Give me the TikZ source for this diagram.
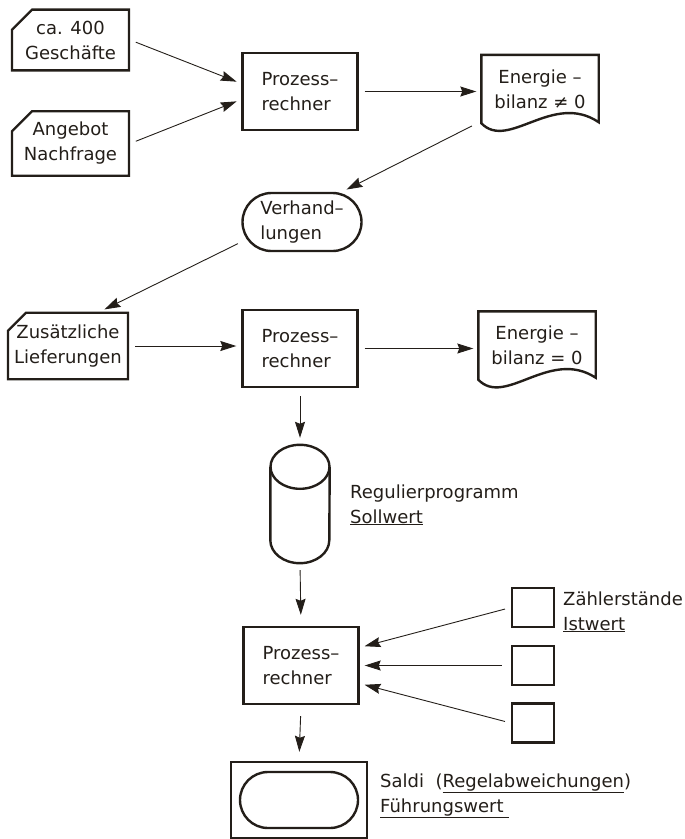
\documentclass[tikz,border=0pt]{standalone}
\usepackage{fontspec}
\setmainfont{DejaVu Sans}
\usepackage{tikz}
\usetikzlibrary{arrows.meta,shapes.misc,positioning}
\definecolor{ink}{RGB}{35,30,25}

\begin{document}
\begin{tikzpicture}[->,x=1pt,y=-1pt,>={Stealth[length=16pt,width=10pt,inset=2pt]},
    font=\fontsize{18}{25}\selectfont,text=ink]
    \tikzstyle{card}=[draw=ink, line width=2.4pt, chamfered rectangle, chamfered rectangle corners=north west,
      chamfered rectangle xsep=9pt, chamfered rectangle ysep=11pt, minimum width=117pt, minimum height=56pt,
      inner sep=0pt, align=center]
    \tikzstyle{proc}=[draw=ink, line width=2.4pt, minimum width=115pt, minimum height=77pt, inner sep=0pt, align=left]
    \tikzstyle{docbox}=[minimum width=117pt, minimum height=68pt, inner sep=0pt, align=center]
    \tikzstyle{talk}=[draw=ink, line width=2.4pt, rounded rectangle, minimum width=119pt, minimum height=58pt,
      inner sep=0pt, align=left]
    \tikzstyle{meter}=[draw=ink, line width=2.4pt, minimum width=42pt, minimum height=39pt, inner sep=0pt]
    \tikzstyle{outline}=[-, draw=ink, line width=2.4pt]
    \tikzstyle{flow}=[draw=ink, line width=0.9pt, shorten <=6pt, shorten >=5pt]
    \tikzstyle{note}=[align=left, inner sep=0pt, anchor=base west]

    \useasboundingbox (0,0) rectangle (685,839);

    \node[card] (c1) at (70.5,40)  {ca. 400\\Geschäfte};
    \node[card] (c2) at (70.5,143.5) {Angebot\\Nachfrage};
    \node[proc] (p1) at (300,91.5) {Prozess--\\rechner};
    \node[docbox] (e1) at (540,89) {Energie --\\bilanz ≠ 0};
    \node[talk] (v) at (302,222) {Verhand--\\lungen};

    \node[card, minimum width=120pt, minimum height=58pt, chamfered rectangle xsep=6pt,
      chamfered rectangle ysep=12pt] (c3) at (68,346) {Zusätzliche\\Lieferungen};
    \node[proc] (p2) at (300,348.5) {Prozess--\\rechner};
    \node[docbox] (e2) at (537,345.5) {Energie --\\bilanz = 0};

    \node[minimum width=59pt, minimum height=118pt, inner sep=0pt] (cyl) at (300,504) {};
    \node[note] (regtxt) at (350,523) {Regulierprogramm\\\underline{Sollwert}};

    \node[proc] (p3) at (301,665.5) {Prozess--\\rechner};
    \node[meter] (s1) at (533,607.5) {};
    \node[meter] (s2) at (533,665.5) {};
    \node[meter] (s3) at (533,723) {};
    \node[note] (zaehl) at (563,630) {Zählerstände\\\underline{Istwert}};

    \node[draw=ink, line width=2.4pt, minimum width=136pt, minimum height=76pt] (saldi) at (299,800) {};
    \node[talk, minimum width=118pt, minimum height=56pt] (saldiin) at (saldi.center) {};
    \node[note] (saltxt) at (380,812) {Saldi\ \ (\underline{Regelabweichungen})\\\underline{Führungswert\ }};

    \draw[outline] (e1.south west) -- (e1.north west) -- (e1.north east) -- ([yshift=1pt]e1.south east)
      .. controls ([xshift=-46pt,yshift=32pt]e1.south east) and ([xshift=27pt,yshift=-28pt]e1.south west) .. (e1.south west) -- cycle;
    \draw[outline] (e2.south west) -- (e2.north west) -- (e2.north east) -- ([yshift=2pt]e2.south east)
      .. controls ([xshift=-46pt,yshift=32pt]e2.south east) and ([xshift=27pt,yshift=-28pt]e2.south west) .. (e2.south west) -- cycle;
    \draw[outline] ([yshift=-22pt]cyl.north) ellipse [x radius=29.5pt, y radius=22pt];
    \draw[outline] ([yshift=-22pt]cyl.north west) -- ([yshift=23pt]cyl.south west)
      arc [start angle=180, end angle=360, x radius=29.5pt, y radius=23pt] -- ([yshift=-22pt]cyl.north east);

    \path
     (c1.east) edge[flow] ([yshift=8pt]p1.west)
     (c2.east) edge[flow] ([yshift=-8pt]p1.west)
     (p1.east) edge[flow] (p1.east -| e1.west)
     ([xshift=-4pt]e1.south west) edge[flow] ([xshift=40pt]v.north)
     ([xshift=2pt,yshift=-19pt]v.west) edge[flow] ([xshift=32pt]c3.north)
     (c3.east) edge[flow] (c3.east -| p2.west)
     (p2.east) edge[flow] (p2.east -| e2.west)
     (p2.south) edge[flow, shorten <=8pt, shorten >=7pt] (cyl.north)
     (cyl.south) edge[flow, shorten <=7pt, shorten >=11pt] (p3.north)
     (s1.west) edge[flow] ([yshift=18pt]p3.east)
     (s2.west) edge[flow, shorten <=9pt] (p3.east)
     (s3.west) edge[flow] ([yshift=-18pt]p3.east)
     (p3.south) edge[flow, shorten <=11pt, shorten >=9pt] (saldi.north);
\end{tikzpicture}
\end{document}
